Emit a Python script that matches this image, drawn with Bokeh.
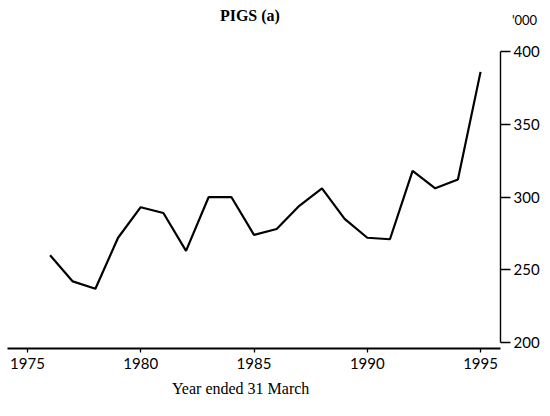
from bokeh.plotting import figure
from bokeh.models import Range1d, LinearAxis, FixedTicker, Label
from bokeh.embed import file_html
from bokeh.resources import INLINE

years = list(range(1976, 1996))
pigs = [260, 242, 237, 272, 293, 289, 263, 300, 300, 274,
        278, 294, 306, 285, 272, 271, 318, 306, 312, 386]
x_ticks = [1975, 1980, 1985, 1990, 1995]
y_ticks = [200, 250, 300, 350, 400]
title_text = "PIGS (a)"
unit_text = "'000"
x_label_text = "Year ended 31 March"

p = figure(width=542, height=400, output_backend="svg", toolbar_location=None,
           title=None,
           x_range=Range1d(1974.12, 1995.88), y_range=Range1d(195.9, 400.7),
           x_axis_location=None, y_axis_location=None,
           min_border_left=7, min_border_right=42, min_border_top=50, min_border_bottom=52)
p.outline_line_color = None
p.grid.visible = False

p.line(years, pigs, line_color="black", line_width=2.2)

xa = LinearAxis(ticker=FixedTicker(ticks=x_ticks))
xa.axis_line_width = 2
xa.axis_line_color = "black"
xa.major_tick_in = 0
xa.major_tick_out = 4
xa.major_tick_line_width = 1.3
xa.minor_tick_line_color = None
xa.major_label_text_font = "Lato"
xa.major_label_text_font_size = "15px"
xa.major_label_text_color = "black"
xa.major_label_standoff = 5
p.add_layout(xa, "below")

ya = LinearAxis(ticker=FixedTicker(ticks=y_ticks), bounds=(200, 400))
ya.axis_line_width = 1.4
ya.axis_line_color = "black"
ya.major_tick_in = 0
ya.major_tick_out = 10
ya.major_tick_line_width = 1.3
ya.minor_tick_line_color = None
ya.major_label_text_font = "Lato"
ya.major_label_text_font_size = "15px"
ya.major_label_text_color = "black"
ya.major_label_standoff = 3
p.add_layout(ya, "right")

# texts outside the frame, placed in side panels (not clipped), positioned by data scales
title_lbl = Label(x=1984.82, y=424.8, text=title_text, text_font="Liberation Serif",
                  text_font_style="bold", text_font_size="16px",
                  text_align="center", text_baseline="middle", text_color="black")
unit_lbl = Label(x=1996.94, y=422, text=unit_text, text_font="Lato",
                 text_font_size="13px", text_align="center", text_baseline="middle",
                 text_color="black")
p.add_layout(title_lbl, "above")
p.add_layout(unit_lbl, "above")

x_lbl = Label(x=1984.41, y=168.5, text=x_label_text, text_font="Liberation Serif",
              text_font_size="16px", text_align="center", text_baseline="middle",
              text_color="black")
p.add_layout(x_lbl, "below")

open("out.html", "w").write(file_html(p, INLINE))
